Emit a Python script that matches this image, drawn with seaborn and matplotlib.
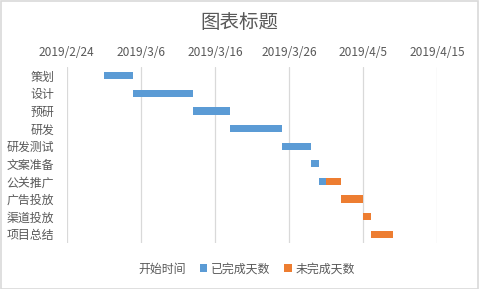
import datetime as dt
import matplotlib
matplotlib.use("Agg")
import matplotlib.pyplot as plt
import matplotlib.dates as mdates
from matplotlib.patches import Patch, Rectangle
import pandas as pd
import seaborn as sns

# ---- data ----
tasks = ["策划", "设计", "预研", "研发", "研发测试", "文案准备", "公关推广", "广告投放", "渠道投放", "项目总结"]
start_dates = ["2019-03-01", "2019-03-05", "2019-03-13", "2019-03-18", "2019-03-25",
               "2019-03-29", "2019-03-30", "2019-04-02", "2019-04-05", "2019-04-06"]
done_days = [4, 8, 5, 7, 4, 1, 1, 0, 0, 0]
remain_days = [0, 0, 0, 0, 0, 0, 2, 3, 1, 3]
tick_dates = ["2019-02-24", "2019-03-06", "2019-03-16", "2019-03-26", "2019-04-05", "2019-04-15"]
title = "图表标题"
legend_labels = ["开始时间", "已完成天数", "未完成天数"]

BLUE = "#5B9BD5"
ORANGE = "#ED7D31"
TEXT = "#595959"
GRID = "#D9D9D9"

sns.set_theme(style="white")
plt.rcParams["font.family"] = ["Noto Sans CJK SC", "DejaVu Sans"]

start_num = [mdates.date2num(pd.Timestamp(d)) for d in start_dates]
ticks_num = [mdates.date2num(pd.Timestamp(d)) for d in tick_dates]

df = pd.DataFrame({"task": tasks, "start": start_num, "done": done_days, "remain": remain_days})
df["task"] = pd.Categorical(df["task"], categories=tasks, ordered=True)

fig = plt.figure(figsize=(4.82, 2.89), dpi=100)
ax = fig.add_axes([66.7 / 482, 1 - 243 / 289, (437.3 - 66.7) / 482, (243 - 67) / 289])

sns.barplot(data=df, y="task", x="done", order=tasks, color=BLUE, saturation=1,
            width=0.41, left=df["start"].values, ax=ax, errorbar=None, linewidth=0)
sns.barplot(data=df, y="task", x="remain", order=tasks, color=ORANGE, saturation=1,
            width=0.41, left=(df["start"] + df["done"]).values, ax=ax, errorbar=None, linewidth=0)

ax.set_xlim(ticks_num[0], ticks_num[-1])
ax.set_ylim(len(tasks) - 0.5, -0.5)
ax.set_xticks(ticks_num)
ax.set_xticklabels([f"{pd.Timestamp(d).year}/{pd.Timestamp(d).month}/{pd.Timestamp(d).day}" for d in tick_dates])
ax.xaxis.tick_top()
ax.tick_params(axis="x", length=0, pad=6, labelsize=8.6, colors=TEXT)
ax.tick_params(axis="y", length=0, pad=9, labelsize=8.6, colors=TEXT)
ax.set_xlabel("")
ax.set_ylabel("")
ax.grid(axis="x", color=GRID, linewidth=0.9)
ax.grid(axis="y", visible=False)
ax.set_axisbelow(True)
for s in ax.spines.values():
    s.set_visible(False)

fig.text(0.497, 1 - 22 / 289, title, ha="center", va="center", fontsize=14, color=TEXT)

handles = [Patch(facecolor="none", edgecolor="none"),
           Patch(facecolor=BLUE, edgecolor="none"),
           Patch(facecolor=ORANGE, edgecolor="none")]
fig.legend(handles, legend_labels, loc="center", bbox_to_anchor=(0.5, 1 - 269 / 289),
           ncol=3, frameon=False, fontsize=8.6, labelcolor=TEXT,
           handlelength=0.6, handleheight=0.6, handletextpad=0.3, columnspacing=1.2)

fig.patches.append(Rectangle((0.5 / 482, 0.5 / 289), 477.5 / 482, 288 / 289,
                             transform=fig.transFigure, fill=False, edgecolor=GRID, linewidth=1.2))

fig.savefig("out.png", dpi=100)
